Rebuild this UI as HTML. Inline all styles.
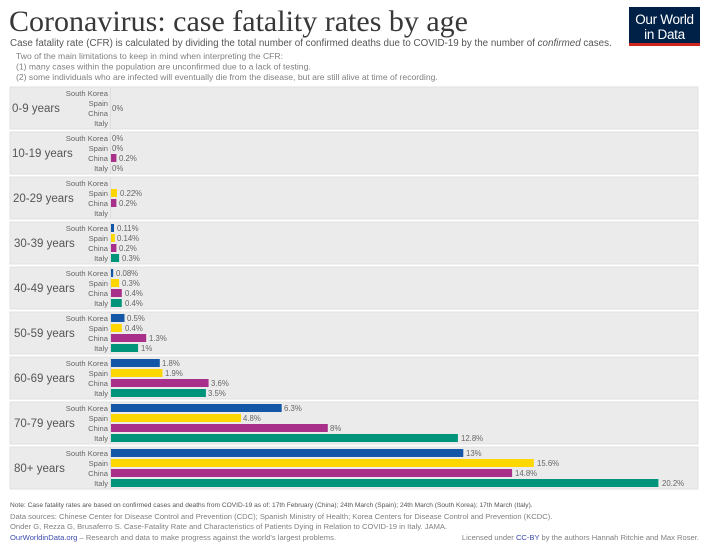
<!DOCTYPE html>
<html><head><meta charset="utf-8"><style>
html,body{margin:0;padding:0;background:#fff;}
svg{display:block;font-family:"Liberation Sans",sans-serif;}
</style></head><body>
<svg width="710" height="550" viewBox="0 0 710 550" xmlns="http://www.w3.org/2000/svg">
<text x="9" y="31" font-family="Liberation Serif,serif" font-size="30" fill="#383838">Coronavirus: case fatality rates by age</text>
<text x="10" y="46" font-size="9.8" fill="#555">Case fatality rate (CFR) is calculated by dividing the total number of confirmed deaths due to COVID-19 by the number of <tspan font-style="italic">confirmed</tspan> cases.</text>
<g font-size="8.6" fill="#808080">
<text x="16" y="59">Two of the main limitations to keep in mind when interpreting the CFR:</text>
<text x="16" y="69.5">(1) many cases within the population are unconfirmed due to a lack of testing.</text>
<text x="16" y="80">(2) some individuals who are infected will eventually die from the disease, but are still alive at time of recording.</text>
</g>
<rect x="629" y="7" width="71" height="39" fill="#002147"/>
<rect x="629" y="43" width="71" height="3" fill="#ce261e"/>
<text x="664.5" y="24" font-size="13.5" fill="#fff" text-anchor="middle" letter-spacing="-0.3">Our World</text>
<text x="664.5" y="39" font-size="13.5" fill="#fff" text-anchor="middle" letter-spacing="-0.3">in Data</text>

<defs>
<g id="labels" font-size="7.6" fill="#666" text-anchor="end">
<text x="108" y="9">South Korea</text><text x="108" y="19">Spain</text><text x="108" y="29">China</text><text x="108" y="39">Italy</text>
</g>
</defs>

<g font-size="7.8" fill="#666">
<g transform="translate(0,87)">
<rect x="10" y="0" width="688" height="42" fill="#ebebeb" stroke="#e0e0e0"/>
<line x1="110.5" y1="0" x2="110.5" y2="42" stroke="#dcdcdc"/>
<use href="#labels"/>
<text x="12" y="25" font-size="11.5" fill="#555">0-9 years</text>
<text x="112" y="24">0%</text>
</g>
<g transform="translate(0,132)">
<rect x="10" y="0" width="688" height="42" fill="#ebebeb" stroke="#e0e0e0"/>
<line x1="110.5" y1="0" x2="110.5" y2="42" stroke="#dcdcdc"/>
<use href="#labels"/>
<text x="12" y="25" font-size="11.5" fill="#555">10-19 years</text>
<text x="112" y="9">0%</text><text x="112" y="19">0%</text>
<rect x="111" y="22" width="5.4" height="8" fill="#a9308a"/><text x="119" y="29">0.2%</text>
<text x="112" y="39">0%</text>
</g>
<g transform="translate(0,177)">
<rect x="10" y="0" width="688" height="42" fill="#ebebeb" stroke="#e0e0e0"/>
<line x1="110.5" y1="0" x2="110.5" y2="42" stroke="#dcdcdc"/>
<use href="#labels"/>
<text x="13" y="25" font-size="11.5" fill="#555">20-29 years</text>
<rect x="111" y="12" width="6" height="8" fill="#fed600"/><text x="120" y="19">0.22%</text>
<rect x="111" y="22" width="5.4" height="8" fill="#a9308a"/><text x="119" y="29">0.2%</text>
</g>
<g transform="translate(0,222)">
<rect x="10" y="0" width="688" height="42" fill="#ebebeb" stroke="#e0e0e0"/>
<line x1="110.5" y1="0" x2="110.5" y2="42" stroke="#dcdcdc"/>
<use href="#labels"/>
<text x="14" y="25" font-size="11.5" fill="#555">30-39 years</text>
<rect x="111" y="2" width="3" height="8" fill="#1457a6"/><text x="117" y="9">0.11%</text>
<rect x="111" y="12" width="3.8" height="8" fill="#fed600"/><text x="117" y="19">0.14%</text>
<rect x="111" y="22" width="5.4" height="8" fill="#a9308a"/><text x="119" y="29">0.2%</text>
<rect x="111" y="32" width="8.1" height="8" fill="#00957a"/><text x="122" y="39">0.3%</text>
</g>
<g transform="translate(0,267)">
<rect x="10" y="0" width="688" height="42" fill="#ebebeb" stroke="#e0e0e0"/>
<line x1="110.5" y1="0" x2="110.5" y2="42" stroke="#dcdcdc"/>
<use href="#labels"/>
<text x="14" y="25" font-size="11.5" fill="#555">40-49 years</text>
<rect x="111" y="2" width="2.2" height="8" fill="#1457a6"/><text x="116" y="9">0.08%</text>
<rect x="111" y="12" width="8.1" height="8" fill="#fed600"/><text x="122" y="19">0.3%</text>
<rect x="111" y="22" width="10.8" height="8" fill="#a9308a"/><text x="125" y="29">0.4%</text>
<rect x="111" y="32" width="10.8" height="8" fill="#00957a"/><text x="125" y="39">0.4%</text>
</g>
<g transform="translate(0,312)">
<rect x="10" y="0" width="688" height="42" fill="#ebebeb" stroke="#e0e0e0"/>
<line x1="110.5" y1="0" x2="110.5" y2="42" stroke="#dcdcdc"/>
<use href="#labels"/>
<text x="14" y="25" font-size="11.5" fill="#555">50-59 years</text>
<rect x="111" y="2" width="13.5" height="8" fill="#1457a6"/><text x="127" y="9">0.5%</text>
<rect x="111" y="12" width="10.8" height="8" fill="#fed600"/><text x="125" y="19">0.4%</text>
<rect x="111" y="22" width="35.2" height="8" fill="#a9308a"/><text x="149" y="29">1.3%</text>
<rect x="111" y="32" width="27.1" height="8" fill="#00957a"/><text x="141" y="39">1%</text>
</g>
<g transform="translate(0,357)">
<rect x="10" y="0" width="688" height="42" fill="#ebebeb" stroke="#e0e0e0"/>
<line x1="110.5" y1="0" x2="110.5" y2="42" stroke="#dcdcdc"/>
<use href="#labels"/>
<text x="14" y="25" font-size="11.5" fill="#555">60-69 years</text>
<rect x="111" y="2" width="48.8" height="8" fill="#1457a6"/><text x="162" y="9">1.8%</text>
<rect x="111" y="12" width="51.5" height="8" fill="#fed600"/><text x="165" y="19">1.9%</text>
<rect x="111" y="22" width="97.6" height="8" fill="#a9308a"/><text x="211" y="29">3.6%</text>
<rect x="111" y="32" width="94.9" height="8" fill="#00957a"/><text x="208" y="39">3.5%</text>
</g>
<g transform="translate(0,402)">
<rect x="10" y="0" width="688" height="42" fill="#ebebeb" stroke="#e0e0e0"/>
<line x1="110.5" y1="0" x2="110.5" y2="42" stroke="#dcdcdc"/>
<use href="#labels"/>
<text x="14" y="25" font-size="11.5" fill="#555">70-79 years</text>
<rect x="111" y="2" width="170.7" height="8" fill="#1457a6"/><text x="284" y="9">6.3%</text>
<rect x="111" y="12" width="130.1" height="8" fill="#fed600"/><text x="243" y="19">4.8%</text>
<rect x="111" y="22" width="216.8" height="8" fill="#a9308a"/><text x="330" y="29">8%</text>
<rect x="111" y="32" width="346.9" height="8" fill="#00957a"/><text x="461" y="39">12.8%</text>
</g>
<g transform="translate(0,447)">
<rect x="10" y="0" width="688" height="42" fill="#ebebeb" stroke="#e0e0e0"/>
<line x1="110.5" y1="0" x2="110.5" y2="42" stroke="#dcdcdc"/>
<use href="#labels"/>
<text x="14" y="25" font-size="11.5" fill="#555">80+ years</text>
<rect x="111" y="2" width="352.3" height="8" fill="#1457a6"/><text x="466" y="9">13%</text>
<rect x="111" y="12" width="422.8" height="8" fill="#fed600"/><text x="537" y="19">15.6%</text>
<rect x="111" y="22" width="401.1" height="8" fill="#a9308a"/><text x="515" y="29">14.8%</text>
<rect x="111" y="32" width="547.4" height="8" fill="#00957a"/><text x="662" y="39">20.2%</text>
</g>
</g>

<text x="10" y="507" font-size="6.6" fill="#555">Note: Case fatality rates are based on confirmed cases and deaths from COVID-19 as of: 17th February (China); 24th March (Spain); 24th March (South Korea); 17th March (Italy).</text>
<g font-size="7.6" fill="#808080">
<text x="10" y="519">Data sources: Chinese Center for Disease Control and Prevention (CDC); Spanish Ministry of Health; Korea Centers for Disease Control and Prevention (KCDC).</text>
<text x="10" y="529">Onder G, Rezza G, Brusaferro S. Case-Fatality Rate and Characteristics of Patients Dying in Relation to COVID-19 in Italy. JAMA.</text>
<text x="10" y="540"><tspan fill="#3c4cad">OurWorldinData.org</tspan> – Research and data to make progress against the world’s largest problems.</text>
<text x="699" y="540" text-anchor="end">Licensed under <tspan fill="#3c4cad">CC-BY</tspan> by the authors Hannah Ritchie and Max Roser.</text>
</g>
</svg>
</body></html>
